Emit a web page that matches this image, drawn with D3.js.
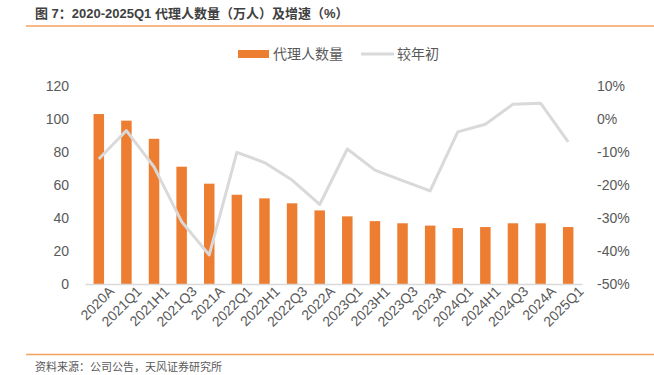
<!DOCTYPE html>
<html>
<head>
<meta charset="utf-8">
<script src="https://cdn.jsdelivr.net/npm/d3@7/dist/d3.min.js"></script>
<style>
  body { margin: 0; background: #fff; }
  text { font-family: "Liberation Sans", "Noto Sans CJK SC", sans-serif; }
</style>
</head>
<body>
<div id="chart-area"></div>
<script>
// data
var categories = ["2020A", "2021Q1", "2021H1", "2021Q3", "2021A", "2022Q1", "2022H1", "2022Q3", "2022A",
  "2023Q1", "2023H1", "2023Q3", "2023A", "2024Q1", "2024H1", "2024Q3", "2024A", "2025Q1"];
var agents = [103, 99, 88, 71.1, 60.8, 54.1, 51.9, 48.9, 44.6, 41.0, 38.1, 36.8, 35.4, 33.9, 34.5, 36.8, 36.8, 34.5];
var growth = [-12.1, -3.5, -14.5, -31.1, -41.2, -10.1, -13.2, -18.5, -25.9, -9.1, -15.5, -18.7, -21.8, -3.9, -1.6, 4.5, 4.8, -6.9];
var leftTicks = [0, 20, 40, 60, 80, 100, 120];
var rightTicks = [-50, -40, -30, -20, -10, 0, 10];

var W = 654, H = 375;
var margin = { left: 85, right: 72, top: 86, bottom: 91 };
var width = W - margin.left - margin.right;
var height = H - margin.top - margin.bottom;

var svg = d3.select("#chart-area")
  .append("svg")
  .attr("width", W)
  .attr("height", H);

// title + rules
svg.append("text")
  .attr("x", 35)
  .attr("y", 18)
  .attr("font-size", "13px")
  .attr("font-weight", "bold")
  .attr("fill", "#404040")
  .text("图 7：2020-2025Q1 代理人数量（万人）及增速（%）");

svg.append("line")
  .attr("x1", 26).attr("x2", W)
  .attr("y1", 26).attr("y2", 26)
  .attr("stroke", "#f4a15c")
  .attr("stroke-width", 1.5);

svg.append("line")
  .attr("x1", 26).attr("x2", W)
  .attr("y1", 354.5).attr("y2", 354.5)
  .attr("stroke", "#f4a15c")
  .attr("stroke-width", 1.5);

svg.append("text")
  .attr("x", 35)
  .attr("y", 371)
  .attr("font-size", "11px")
  .attr("fill", "#595959")
  .text("资料来源：公司公告，天风证券研究所");

var g = svg.append("g")
  .attr("transform", "translate(" + margin.left + "," + margin.top + ")");

// Scales
var x = d3.scaleBand()
  .domain(categories)
  .range([0, width])
  .paddingInner(0.62)
  .paddingOuter(0.31);

var y = d3.scaleLinear()
  .domain([0, 120])
  .range([height, 0]);

var y2 = d3.scaleLinear()
  .domain([-50, 10])
  .range([height, 0]);

// Axes
var yAxisGroup = g.append("g")
  .call(d3.axisLeft(y).tickValues(leftTicks).tickSize(0).tickPadding(16));
yAxisGroup.select(".domain").remove();

var y2AxisGroup = g.append("g")
  .attr("transform", "translate(" + width + ",0)")
  .call(d3.axisRight(y2).tickValues(rightTicks).tickSize(0).tickPadding(15)
    .tickFormat(function(d) { return d + "%"; }));
y2AxisGroup.select(".domain").remove();

[yAxisGroup, y2AxisGroup].forEach(function(a) {
  a.selectAll("text")
    .attr("font-size", "14px")
    .attr("fill", "#595959")
    .attr("font-family", "Liberation Sans, sans-serif");
});

// Bars
g.selectAll("rect.bar")
  .data(agents)
  .enter()
  .append("rect")
  .attr("class", "bar")
  .attr("x", function(d, i) { return x(categories[i]); })
  .attr("y", function(d) { return y(d); })
  .attr("width", x.bandwidth())
  .attr("height", function(d) { return height - y(d); })
  .attr("fill", "#ed7d31");

// X axis
var xAxisGroup = g.append("g")
  .attr("transform", "translate(0," + height + ")")
  .call(d3.axisBottom(x).tickSize(0).tickPadding(11));
xAxisGroup.select(".domain")
  .attr("stroke", "#d9d9d9")
  .attr("stroke-width", 1.5);
xAxisGroup.selectAll("text")
  .attr("font-size", "14px")
  .attr("fill", "#595959")
  .attr("font-family", "Liberation Sans, sans-serif")
  .attr("text-anchor", "end")
  .attr("dx", "0.4em")
  .attr("dy", "0.45em")
  .attr("transform", "rotate(-45)");

// Line
var line = d3.line()
  .x(function(d, i) { return x(categories[i]) + x.bandwidth() / 2; })
  .y(function(d) { return y2(d); });

g.append("path")
  .datum(growth)
  .attr("fill", "none")
  .attr("stroke", "#d9d9d9")
  .attr("stroke-width", 3)
  .attr("stroke-linejoin", "round")
  .attr("d", line);

// Legend
var legend = svg.append("g");
legend.append("rect")
  .attr("x", 238).attr("y", 50)
  .attr("width", 31).attr("height", 8)
  .attr("fill", "#ed7d31");
legend.append("text")
  .attr("x", 273).attr("y", 59)
  .attr("font-size", "14px")
  .attr("fill", "#595959")
  .text("代理人数量");
legend.append("line")
  .attr("x1", 361).attr("x2", 394)
  .attr("y1", 54).attr("y2", 54)
  .attr("stroke", "#d9d9d9")
  .attr("stroke-width", 3);
legend.append("text")
  .attr("x", 397).attr("y", 59)
  .attr("font-size", "14px")
  .attr("fill", "#595959")
  .text("较年初");
</script>
</body>
</html>
